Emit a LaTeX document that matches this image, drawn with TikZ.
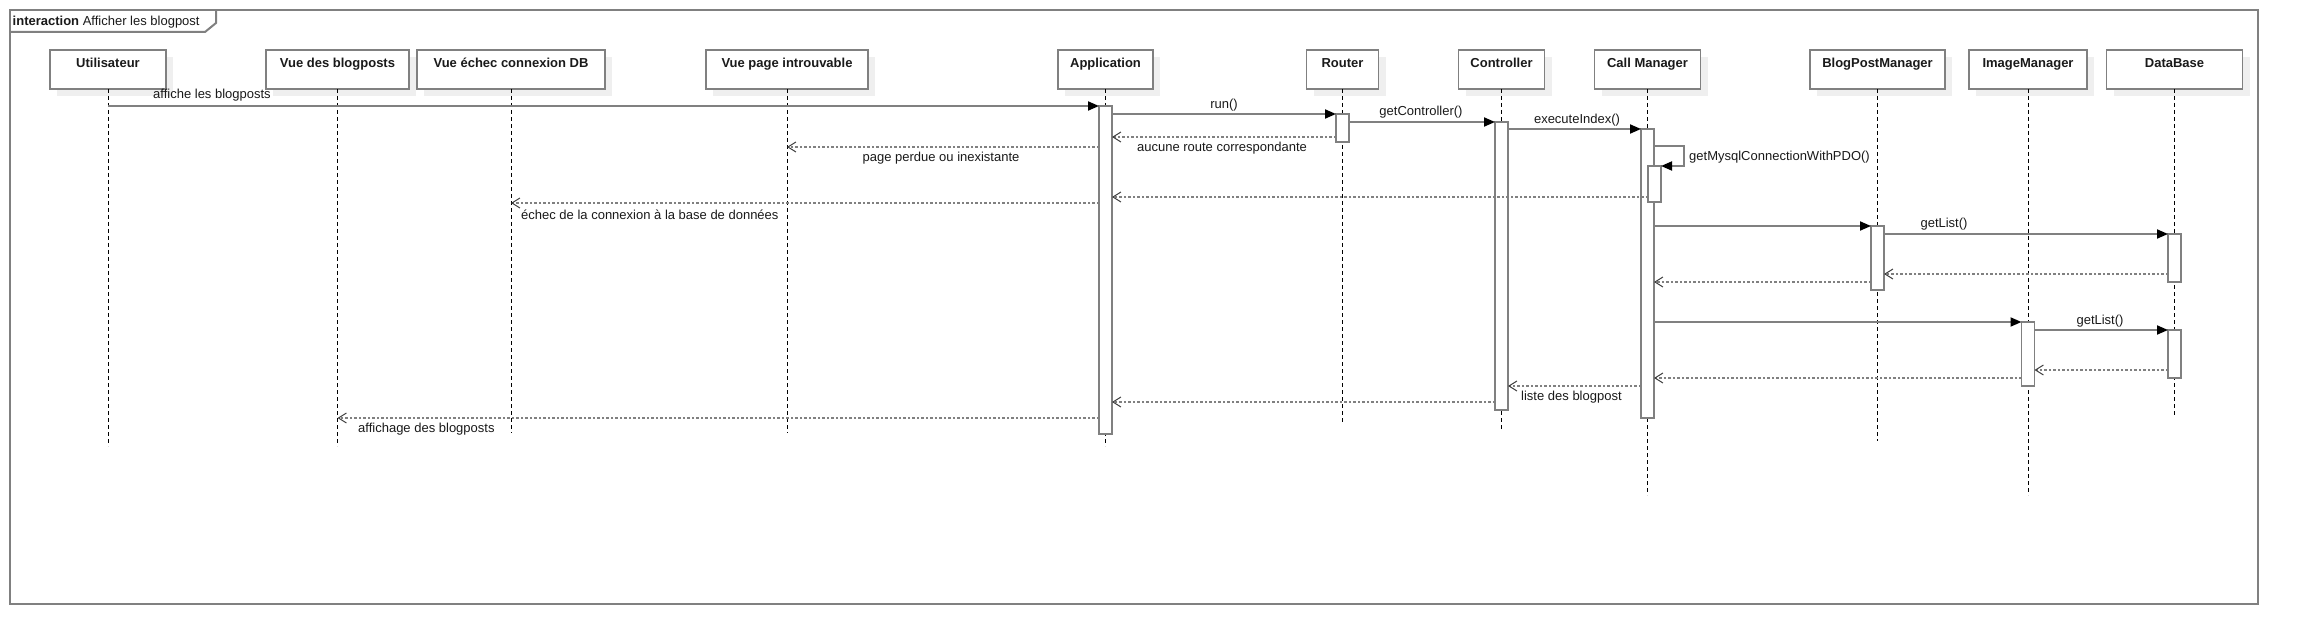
\documentclass[tikz,border=0pt]{standalone}
\usepackage{fontspec}
\setmainfont{Liberation Sans}
\usetikzlibrary{arrows.meta,calc,shadows}
\definecolor{bd}{HTML}{808080}
\definecolor{shd}{HTML}{EFEFEF}
\definecolor{tx}{HTML}{1A1A1A}
\begin{document}
\begin{tikzpicture}[x=1pt,y=-1pt,
  frameline/.style={draw=bd,line width=2pt},
  objbox/.style={draw=bd,line width=1.8pt,fill=white,minimum height=39pt,inner sep=0pt,outer sep=0pt,
    drop shadow={shadow xshift=7pt,shadow yshift=-7pt,fill=shd,opacity=1}},
  boxlbl/.style={font=\bfseries\fontsize{13}{15}\selectfont,anchor=base,inner sep=0pt,text=tx},
  lbl/.style={font=\fontsize{13}{15}\selectfont,inner sep=0pt,text=tx},
  lifeline/.style={draw=black,line width=0.9pt,dash pattern=on 4pt off 3pt},
  act/.style={draw=bd,line width=1.8pt,fill=white,minimum width=13pt,inner sep=0pt,outer sep=0pt,anchor=north},
  msg/.style={draw=bd,line width=1.8pt,-{Triangle[length=11pt,width=9pt,color=black,fill=black]}},
  ret/.style={draw=bd,line width=1.6pt,dash pattern=on 2.5pt off 2pt,-{Straight Barb[length=8pt,width=10pt,line width=1pt,color=black!75]}}
]
\useasboundingbox (0,0) rectangle (2298,644);
\fill[white] (0,0) rectangle (2298,644);

% frame
\node[frameline,minimum width=2248pt,minimum height=594pt,anchor=north west,inner sep=0pt,outer sep=0pt] (frm) at (10,10) {};
\draw[frameline] (10,32) -- (205,32) -- (216,23) -- (216,10);
\node[lbl,anchor=base west] (title) at (12.5,26) {\textbf{interaction} Afficher les blogpost};

% participant boxes
\node[objbox,minimum width=116pt] (u)   at (108,69.5) {};
\node[objbox,minimum width=143pt] (vb)  at (337.5,69.5) {};
\node[objbox,minimum width=188pt] (ve)  at (511,69.5) {};
\node[objbox,minimum width=162pt] (vp)  at (787,69.5) {};
\node[objbox,minimum width=95pt]  (app) at (1105.5,69.5) {};
\node[objbox,minimum width=72pt]  (rt)  at (1342.5,69.5) {};
\node[objbox,minimum width=86pt]  (ctl) at (1501.5,69.5) {};
\node[objbox,minimum width=106pt] (cm)  at (1647.5,69.5) {};
\node[objbox,minimum width=135pt] (bpm) at (1877.5,69.5) {};
\node[objbox,minimum width=118pt] (im)  at (2028,69.5) {};
\node[objbox,minimum width=136pt] (db)  at (2174.5,69.5) {};

\node[boxlbl] (uL)   at ([yshift=-18pt]u.north)   {Utilisateur};
\node[boxlbl] (vbL)  at ([yshift=-18pt]vb.north)  {Vue des blogposts};
\node[boxlbl] (veL)  at ([yshift=-18pt]ve.north)  {Vue échec connexion DB};
\node[boxlbl] (vpL)  at ([yshift=-18pt]vp.north)  {Vue page introuvable};
\node[boxlbl] (appL) at ([yshift=-18pt]app.north) {Application};
\node[boxlbl] (rtL)  at ([yshift=-18pt]rt.north)  {Router};
\node[boxlbl] (ctlL) at ([yshift=-18pt]ctl.north) {Controller};
\node[boxlbl] (cmL)  at ([yshift=-18pt]cm.north)  {Call Manager};
\node[boxlbl] (bpmL) at ([yshift=-18pt]bpm.north) {BlogPostManager};
\node[boxlbl] (imL)  at ([yshift=-18pt]im.north)  {ImageManager};
\node[boxlbl] (dbL)  at ([yshift=-18pt]db.north)  {DataBase};

% lifelines
\coordinate (uE)   at (108,446);
\coordinate (vbE)  at (337.5,446);
\coordinate (veE)  at (511,433);
\coordinate (vpE)  at (787,433);
\coordinate (appE) at (1105.5,446);
\coordinate (rtE)  at (1342.5,423);
\coordinate (ctlE) at (1501.5,429);
\coordinate (cmE)  at (1647.5,495);
\coordinate (bpmE) at (1877.5,441);
\coordinate (imE)  at (2028,495);
\coordinate (dbE)  at (2174.5,415);
\foreach \n in {u,vb,ve,vp,app,rt,ctl,cm,bpm,im,db}
  \draw[lifeline] (\n.south) -- (\n E);

% activations
\node[act,minimum height=328pt] (aApp) at (1105.5,106) {};
\node[act,minimum height=28pt]  (aRt)  at (1342.5,114) {};
\node[act,minimum height=288pt] (aCtl) at (1501.5,122) {};
\node[act,minimum height=289pt] (aCM)  at (1647.5,129) {};
\node[act,minimum height=64pt]  (aBPM) at (1877.5,226) {};
\node[act,minimum height=48pt]  (aDB1) at (2174.5,234) {};
\node[act,minimum height=64pt]  (aIM)  at (2028,322) {};
\node[act,minimum height=48pt]  (aDB2) at (2174.5,330) {};
\node[act,minimum height=36pt]  (aCM2) at (1654.5,166) {};

% messages
\draw[msg] (u.south |- aApp.north) -- (aApp.north west);
\node[lbl,anchor=base west] (m1) at (153,99) {affiche les blogposts};

\draw[msg] (aApp.east |- aRt.north) -- (aRt.north west);
\node[lbl,anchor=base] (m2) at (1224,109) {run()};

\draw[msg] (aRt.east |- aCtl.north) -- (aCtl.north west);
\node[lbl,anchor=base] (m3) at (1421,116) {getController()};

\draw[msg] (aCtl.east |- aCM.north) -- (aCM.north west);
\node[lbl,anchor=base] (m4) at (1577,124) {executeIndex()};

\draw[ret] (aRt.west |- 0,137) -- (aApp.east |- 0,137);
\node[lbl,anchor=base] (m5) at (1222,152) {aucune route correspondante};

\draw[ret] (aApp.west |- 0,147) -- (vp.south |- 0,147);
\node[lbl,anchor=base] (m6) at (941,162) {page perdue ou inexistante};

\coordinate (selfR) at (1684,146);
\draw[msg] (aCM.east |- selfR) -- (selfR) -- (selfR |- aCM2.north) -- (aCM2.north east);
\node[lbl,anchor=base west] (m7) at (1689,161) {getMysqlConnectionWithPDO()};

\draw[ret] (aCM2.west |- 0,197) -- (aApp.east |- 0,197);

\draw[ret] (aApp.west |- 0,203) -- (ve.south |- 0,203);
\node[lbl,anchor=base west] (m9) at (521,220) {échec de la connexion à la base de données};

\draw[msg] (aCM.east |- aBPM.north) -- (aBPM.north west);

\draw[msg] (aBPM.east |- aDB1.north) -- (aDB1.north west);
\node[lbl,anchor=base] (m11) at (1944,228) {getList()};

\draw[ret] (aDB1.west |- 0,274) -- (aBPM.east |- 0,274);
\draw[ret] (aBPM.west |- 0,282) -- (aCM.east |- 0,282);

\draw[msg] (aCM.east |- aIM.north) -- (aIM.north west);

\draw[msg] (aIM.east |- aDB2.north) -- (aDB2.north west);
\node[lbl,anchor=base] (m15) at (2100,324) {getList()};

\draw[ret] (aDB2.west |- 0,370) -- (aIM.east |- 0,370);
\draw[ret] (aIM.west |- 0,378) -- (aCM.east |- 0,378);

\draw[ret] (aCM.west |- 0,386) -- (aCtl.east |- 0,386);
\node[lbl,anchor=base west] (m18) at (1521,400) {liste des blogpost};

\draw[ret] (aCtl.west |- 0,402) -- (aApp.east |- 0,402);

\draw[ret] (aApp.west |- 0,418) -- (vb.south |- 0,418);
\node[lbl,anchor=base west] (m20) at (358,432) {affichage des blogposts};
\end{tikzpicture}
\end{document}
